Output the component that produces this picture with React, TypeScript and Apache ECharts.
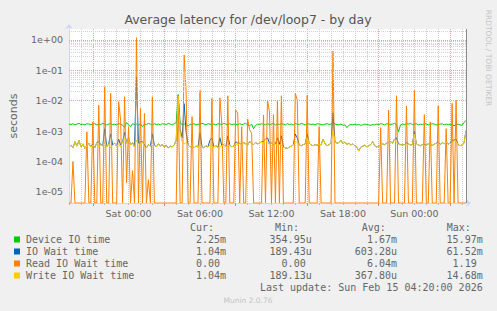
import React, { useEffect, useRef } from 'react';
import * as echarts from 'echarts';

const W = 497;
const H = 311;

// ---- time categories: 10-minute samples, Fri 19:00 .. Sun 04:20 ----
const DAY_NAMES = ['Fri', 'Sat', 'Sun'];
const START_MIN = 19 * 60;
const STEP_MIN = 10;
const N_POINTS = 201;
const pad2 = (n: number) => (n < 10 ? '0' : '') + n;
const timeLabels: string[] = [];
for (let i = 0; i < N_POINTS; i++) {
  const m = START_MIN + i * STEP_MIN;
  const d = Math.floor(m / 1440);
  const mm = m % 1440;
  timeLabels.push(`${DAY_NAMES[d]} ${pad2(Math.floor(mm / 60))}:${pad2(mm % 60)}`);
}

// ---- series values in milliseconds ----
const deviceIoMs = [
  1.7, 1.65, 1.75, 1.6, 1.7, 1.8, 1.65, 1.7, 1.6, 1.75, 1.7, 1.65,
  1.7, 1.75, 1.6, 1.7, 1.65, 1.8, 1.7, 1.6, 1.7, 1.75, 1.65, 1.7,
  1.6, 1.75, 1.7, 1.55, 1.35, 1.9, 1.6, 1.4, 1.75, 1.65, 1.7, 1.6,
  1.75, 1.4, 1.7, 1.65, 1.8, 1.7, 1.6, 1.75, 1.65, 1.7, 1.6, 1.75,
  1.7, 1.65, 1.8, 1.7, 1.6, 1.75, 1.9, 16, 1.8, 1.65, 1.7, 1.75,
  1.45, 1.7, 1.65, 1.75, 1.6, 1.7, 1.65, 1.8, 1.7, 1.6, 1.75, 1.7,
  1.65, 1.7, 1.6, 1.75, 1.7, 1.65, 1.8, 1.7, 1.6, 1.75, 1.65, 1.7,
  1.7, 1.6, 1.75, 1.65, 1.7, 1.8, 1.6, 1.5, 1.7, 1.2, 1.55, 1.7,
  1.65, 1.75, 1.7, 1.6, 1.75, 1.65, 1.7, 1.8, 1.6, 1.7, 1.65, 1.75,
  1.7, 1.6, 1.75, 1.65, 1.7, 1.6, 1.75, 1.7, 1.65, 1.8, 1.7, 1.6,
  1.75, 1.7, 1.65, 1.7, 1.6, 1.75, 1.7, 1.65, 1.6, 1.7, 1.75, 1.65,
  1.7, 2.0, 1.7, 1.65, 1.6, 1.7, 1.55, 1.6, 1.3, 1.55, 1.65, 1.6,
  1.7, 1.6, 1.65, 1.55, 1.6, 1.7, 1.65, 1.6, 1.55, 1.65, 1.6, 1.7,
  1.65, 1.75, 1.7, 1.6, 1.75, 1.7, 1.65, 1.7, 1.8, 1.6, 0.95, 1.6,
  1.7, 1.65, 1.75, 1.7, 1.8, 1.65, 1.7, 1.75, 1.6, 1.7, 1.65, 1.75,
  1.7, 1.6, 1.65, 1.75, 1.7, 1.6, 1.65, 1.7, 1.75, 1.6, 1.7, 1.65,
  1.7, 1.6, 1.5, 1.65, 1.7, 1.6, 1.55, 1.9, 2.25,
];

const ioWaitMs = [
  0.3, 0.35, 0.28, 0.45, 0.32, 0.5, 0.3, 0.38, 0.27, 0.33, 0.4, 0.3,
  0.38, 0.28, 0.42, 0.45, 0.36, 0.33, 1.2, 0.3, 0.38, 0.8, 0.35, 0.4,
  0.32, 0.55, 0.35, 0.45, 0.9, 0.4, 0.6, 0.35, 0.42, 0.3, 61.5, 0.38,
  0.45, 0.45, 0.35, 0.28, 0.36, 0.32, 0.8, 0.35, 0.3, 0.38, 0.33, 0.36,
  0.3, 0.34, 0.28, 0.32, 0.3, 0.35, 0.5, 14.7, 1.1, 0.6, 8, 0.9,
  0.35, 0.3, 0.33, 0.28, 0.32, 0.3, 0.9, 0.3, 0.28, 0.33, 0.3, 0.5,
  0.6, 0.3, 0.34, 0.28, 0.6, 0.33, 0.36, 0.3, 0.7, 0.35, 0.3, 0.33,
  0.45, 0.4, 0.4, 0.36, 0.42, 0.38, 0.35, 0.45, 0.4, 0.36, 0.42, 0.38,
  0.4, 0.45, 0.45, 0.55, 0.6, 0.4, 0.4, 0.35, 0.38, 0.6, 0.36, 0.7,
  0.3, 0.28, 0.27, 0.3, 0.32, 0.35, 0.8, 0.6, 0.35, 0.33, 0.36, 0.38,
  0.8, 0.4, 0.35, 0.33, 0.36, 0.34, 0.38, 0.35, 0.55, 0.38, 0.33, 0.36,
  0.4, 4.0, 0.45, 0.4, 0.42, 0.5, 0.38, 0.44, 0.36, 0.4, 0.35, 0.38,
  0.33, 0.3, 0.22, 0.3, 0.32, 0.35, 0.3, 0.33, 0.36, 0.45, 0.33, 0.3,
  0.32, 0.35, 0.38, 0.36, 0.4, 0.4, 0.45, 0.4, 0.55, 0.6, 0.38, 0.36,
  0.35, 0.36, 0.42, 0.38, 0.35, 0.36, 1.0, 0.38, 0.35, 0.33, 0.36, 0.36,
  0.35, 0.38, 0.36, 0.34, 0.37, 0.4, 0.42, 0.36, 0.42, 0.38, 0.45, 0.37,
  0.4, 0.5, 0.5, 0.55, 0.36, 0.33, 0.35, 0.4, 1.04,
];

const readIoWaitMs = [
  0, 0, 0.1, 0, 0, 0, 0, 0, 0, 0.95, 0, 0,
  2.0, 0, 0, 7.2, 0, 0, 29, 0, 0, 17.5, 0, 0,
  0, 9.3, 2.3, 0, 13.5, 0.02, 1.4, 0, 0.05, 0, 1190, 0,
  5.6, 0, 3.8, 0, 0.025, 0, 13.5, 0, 0, 0, 0, 0,
  0, 0, 0, 0, 0, 0, 0, 12, 0, 0, 320, 20,
  0, 0, 3.0, 0, 0, 0, 22, 0, 0, 0, 0, 0,
  12, 0, 0, 0, 12.5, 1.6, 0, 0, 14.6, 0, 0, 0,
  4.9, 3.9, 0, 1.4, 0, 0, 2.5, 1.1, 0.86, 0, 0, 0,
  0, 0, 3.4, 0, 10.5, 4.3, 0, 3.5, 0, 10.5, 0, 14.6,
  0, 0, 0, 0, 0, 0, 17.5, 10.5, 0, 0, 0, 0,
  15, 0, 0, 0, 0, 0, 1.4, 0, 0, 0, 0, 0,
  0, 430, 0, 0, 0, 0, 0, 0, 0, 0, 0, 0,
  0, 0, 0, 0, 0, 0, 0, 0, 0, 0, 0, 0,
  0, 1.3, 0, 0, 0, 4.9, 0, 0, 0, 14.6, 0, 0,
  0, 0, 6.7, 0, 0, 0, 22, 0, 0, 0, 0, 3.5,
  0, 0, 2.0, 0, 0, 0, 6.8, 0, 0, 0, 1.2, 0,
  0, 8.2, 0, 10.5, 0, 0, 0, 0, 0,
];

const writeIoWaitMs = [
  0.3, 0.35, 0.28, 0.45, 0.32, 0.5, 0.3, 0.38, 0.27, 0.33, 0.4, 0.3,
  0.35, 0.28, 0.42, 0.3, 0.36, 0.33, 0.45, 0.3, 0.38, 0.28, 0.35, 0.4,
  0.32, 0.38, 0.3, 0.45, 0.6, 0.4, 0.55, 0.35, 0.42, 0.3, 0.5, 0.38,
  0.33, 0.45, 0.3, 0.28, 0.36, 0.32, 0.4, 0.35, 0.3, 0.38, 0.33, 0.36,
  0.3, 0.34, 0.28, 0.32, 0.3, 0.35, 0.5, 14.7, 0.9, 0.45, 0.38, 0.42,
  0.35, 0.3, 0.33, 0.28, 0.32, 0.3, 0.36, 0.3, 0.28, 0.33, 0.3, 0.35,
  0.32, 0.3, 0.34, 0.28, 0.3, 0.33, 0.36, 0.3, 0.32, 0.35, 0.3, 0.33,
  0.38, 0.35, 0.4, 0.36, 0.42, 0.38, 0.35, 0.45, 0.4, 0.36, 0.42, 0.38,
  0.4, 0.45, 0.38, 0.55, 0.42, 0.36, 0.4, 0.35, 0.38, 0.33, 0.36, 0.34,
  0.3, 0.28, 0.27, 0.3, 0.32, 0.35, 0.45, 0.42, 0.35, 0.33, 0.36, 0.38,
  0.6, 0.4, 0.35, 0.33, 0.36, 0.34, 0.38, 0.35, 0.55, 0.38, 0.33, 0.36,
  0.4, 1.0, 0.45, 0.4, 0.42, 0.5, 0.38, 0.44, 0.36, 0.4, 0.35, 0.38,
  0.33, 0.3, 0.22, 0.3, 0.32, 0.35, 0.3, 0.33, 0.36, 0.45, 0.33, 0.3,
  0.32, 0.35, 0.38, 0.36, 0.4, 0.38, 0.45, 0.4, 0.55, 0.42, 0.38, 0.36,
  0.35, 0.36, 0.34, 0.38, 0.35, 0.36, 0.8, 0.38, 0.35, 0.33, 0.36, 0.34,
  0.35, 0.38, 0.36, 0.34, 0.37, 0.4, 0.38, 0.36, 0.42, 0.38, 0.45, 0.37,
  0.4, 0.38, 0.5, 0.45, 0.36, 0.33, 0.35, 0.4, 1.04,
];

// ---- legend ----
const legendNames = ['Device IO time', 'IO Wait time', 'Read IO Wait time', 'Write IO Wait time'];
const legendColors = ['#00CC00', '#0066B3', '#FF8000', '#FFCC00'];
const legendHeaders = ['Cur:', 'Min:', 'Avg:', 'Max:'];
const curVals = ['2.25m', '1.04m', '0.00 ', '1.04m'];
const minVals = ['354.95u', '189.43u', '0.00 ', '189.13u'];
const avgVals = ['1.67m', '603.28u', '6.04m', '367.80u'];
const maxVals = ['15.97m', '61.52m', '1.19 ', '14.68m'];
const lastUpdate = 'Last update: Sun Feb 15 04:20:00 2026';

// ---- axis ----
const Y_MIN = 4.3e-6;
const Y_MAX = 2.3;
const yDecades = [1e-5, 1e-4, 1e-3, 1e-2, 1e-1, 1];
const yMinorMultipliers = [2, 3, 4, 5, 6, 7, 8, 9];
const yMinorLines: number[] = [];
[1e-6, 1e-5, 1e-4, 1e-3, 1e-2, 1e-1, 1].forEach((d) =>
  yMinorMultipliers.forEach((m) => {
    const v = d * m;
    if (v > Y_MIN && v < Y_MAX) yMinorLines.push(v);
  })
);
const LABEL_OFFSET = 30; // Sat 00:00
const MAJOR_OFFSET = 12; // major grid
const PER_6H = 36;
const PER_1H = 6;

const FONT = 'DejaVu Sans, sans-serif';
const MONO = 'DejaVu Sans Mono, monospace';
const TXT = '#666666';

const fmtLog = (v: number) => {
  const e = Math.log10(v);
  const r = Math.round(e);
  if (Math.abs(e - r) > 1e-6) return '';
  return '1e' + (r < 0 ? '-' : '+') + pad2(Math.abs(r));
};

export default function App() {
  const ref = useRef<HTMLDivElement>(null);
  useEffect(() => {
    if (!ref.current) return;
    const chart = echarts.init(ref.current, undefined, { renderer: 'svg', width: W, height: H });

    const seriesDefs = [
      { name: legendNames[0], color: legendColors[0], data: deviceIoMs },
      { name: legendNames[1], color: legendColors[1], data: ioWaitMs },
      { name: legendNames[2], color: legendColors[2], data: readIoWaitMs },
      { name: legendNames[3], color: legendColors[3], data: writeIoWaitMs },
    ];

    const rowY = (k: number) => 239.5 + 12 * k;
    const colEnds = [226, 311.7, 397, 482.7];
    const headerX = [190, 275, 361.7, 446.7];
    const cols = [curVals, minVals, avgVals, maxVals];
    const nb = (s: string) => s.replace(/ $/, '\u00a0');

    const elements: any[] = [
      {
        type: 'text', x: 248, y: 19, silent: true,
        style: { text: 'Average latency for /dev/loop7 - by day', font: `12.5px ${FONT}`, fill: '#555555', align: 'center', verticalAlign: 'middle', textAlign: 'center', textVerticalAlign: 'middle' },
      },
      {
        type: 'text', x: 488, y: 58, rotation: -Math.PI / 2, silent: true,
        style: { text: 'RRDTOOL / TOBI OETIKER', font: `7.5px ${FONT}`, fill: '#c4c4c4', align: 'center', verticalAlign: 'middle', textAlign: 'center', textVerticalAlign: 'middle' },
      },
      {
        type: 'text', x: 248, y: 300, silent: true,
        style: { text: 'Munin 2.0.76', font: `7.5px ${FONT}`, fill: '#c4c4c4', align: 'center', verticalAlign: 'middle', textAlign: 'center', textVerticalAlign: 'middle' },
      },
      {
        type: 'text', x: 482.7, y: 287.7, silent: true,
        style: { text: lastUpdate, font: `10px ${MONO}`, fill: TXT, align: 'right', verticalAlign: 'middle', textAlign: 'right', textVerticalAlign: 'middle' },
      },
    ];
    legendHeaders.forEach((h, j) => {
      elements.push({
        type: 'text', x: headerX[j], y: 227.5, silent: true,
        style: { text: h, font: `10px ${MONO}`, fill: TXT, align: 'left', verticalAlign: 'middle', textAlign: 'left', textVerticalAlign: 'middle' },
      });
    });
    legendNames.forEach((n, k) => {
      elements.push({
        type: 'rect', shape: { x: 14, y: rowY(k) - 3, width: 6, height: 6 }, silent: true,
        style: { fill: legendColors[k] },
      });
      elements.push({
        type: 'text', x: 26, y: rowY(k), silent: true,
        style: { text: n, font: `10px ${MONO}`, fill: TXT, align: 'left', verticalAlign: 'middle', textAlign: 'left', textVerticalAlign: 'middle' },
      });
      cols.forEach((c, j) => {
        elements.push({
          type: 'text', x: colEnds[j], y: rowY(k), silent: true,
          style: { text: nb(c[k]), font: `10px ${MONO}`, fill: TXT, align: 'right', verticalAlign: 'middle', textAlign: 'right', textVerticalAlign: 'middle' },
        });
      });
    });

    const minorX = (idx: number) => idx % PER_1H === 0 && idx % PER_6H !== MAJOR_OFFSET;
    const majorX = (idx: number) => idx % PER_6H === MAJOR_OFFSET;

    chart.setOption({
      animation: false,
      backgroundColor: '#F0F0F0',
      grid: { left: 66, top: 29, width: 400, height: 174, show: true, backgroundColor: '#FFFFFF', borderWidth: 0 },
      xAxis: [
        {
          type: 'category', data: timeLabels, boundaryGap: false, position: 'bottom',
          axisLine: { show: true, lineStyle: { color: '#CFD6F8', width: 1 }, symbol: ['none', 'arrow'], symbolSize: [6, 5], symbolOffset: [0, 5] },
          axisTick: { show: true, interval: minorX, length: 2, lineStyle: { color: '#bbbbbb' } },
          axisLabel: { interval: (idx: number) => idx % PER_6H === LABEL_OFFSET, color: TXT, fontSize: 9.5, fontFamily: FONT, margin: 5 },
          splitLine: { show: true, interval: minorX, lineStyle: { color: '#cfcfcf', type: [1, 1], width: 1 } },
        },
        {
          type: 'category', data: timeLabels, boundaryGap: false, position: 'bottom',
          axisLine: { show: false },
          axisTick: { show: true, interval: majorX, length: 3, lineStyle: { color: '#e08080' } },
          axisLabel: { show: false },
          splitLine: { show: true, interval: majorX, lineStyle: { color: '#e6a0a0', type: [1, 1], width: 1 } },
        },
      ],
      yAxis: {
        type: 'log', logBase: 10, min: Y_MIN, max: Y_MAX,
        name: 'seconds', nameLocation: 'middle', nameGap: 50, nameRotate: 90,
        nameTextStyle: { color: TXT, fontSize: 11, fontFamily: FONT },
        axisLine: { show: true, lineStyle: { color: '#CFD6F8', width: 1 }, symbol: ['none', 'arrow'], symbolSize: [6, 5], symbolOffset: [0, 5] },
        axisTick: { show: false },
        splitLine: { show: false },
        minorSplitLine: { show: false },
        axisLabel: { color: TXT, fontSize: 9.5, fontFamily: FONT, margin: 6, formatter: fmtLog, showMinLabel: true, showMaxLabel: true },
      },
      series: [
        {
          type: 'line', data: [], silent: true, z: 1, xAxisIndex: 0,
          markLine: {
            silent: true, symbol: ['none', 'none'], label: { show: false }, animation: false,
            data: [
              ...yMinorLines.map((v) => ({ yAxis: v, lineStyle: { color: '#d2d2d2', type: [1, 1], width: 1 } })),
              ...yDecades.map((v) => ({ yAxis: v, lineStyle: { color: '#e6a0a0', type: [1, 1], width: 1 } })),
            ],
          },
        },
        ...seriesDefs.map((s) => ({
          name: s.name, type: 'line', xAxisIndex: 0, z: 2,
          data: s.data.map((v) => (v === 0 ? Y_MIN : v / 1000)),
          showSymbol: false, symbol: 'none', silent: true, clip: true,
          lineStyle: { color: s.color, width: 1 }, itemStyle: { color: s.color },
        })),
        {
          type: 'line', data: [], silent: true, z: 3, xAxisIndex: 0,
          markLine: {
            silent: true, symbol: ['none', 'none'], label: { show: false }, animation: false,
            data: [{ xAxis: timeLabels[N_POINTS - 1], lineStyle: { color: '#8a8a8a', type: 'solid', width: 1 } }],
          },
        },
      ],
      graphic: { elements },
    });
    return () => chart.dispose();
  }, []);
  return <div ref={ref} style={{ position: 'absolute', left: 0, top: 0, width: W, height: H, background: '#F0F0F0' }} />;
}
